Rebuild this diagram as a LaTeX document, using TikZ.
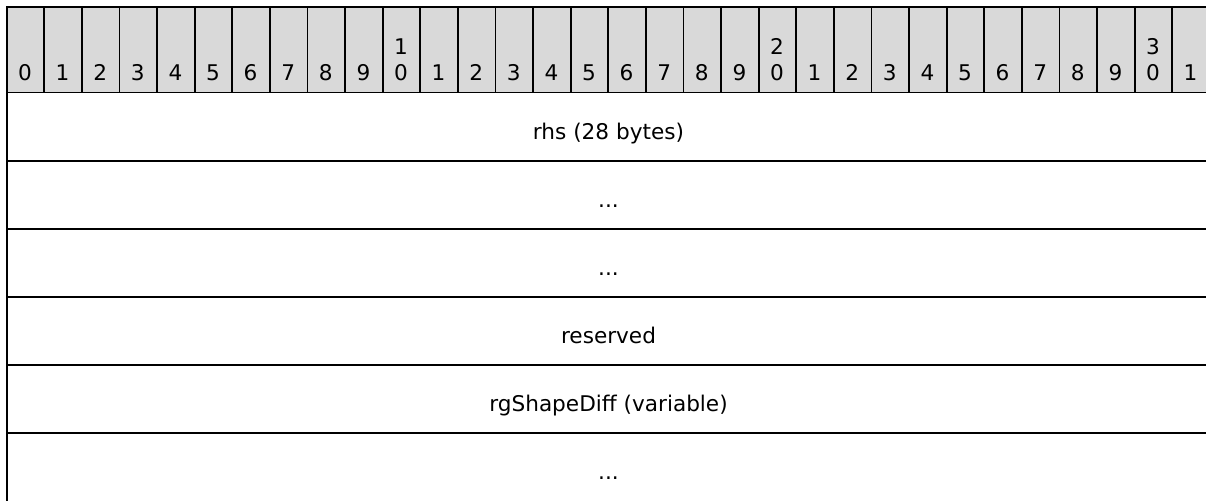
\documentclass[tikz,border=0pt]{standalone}
\usepackage{fontspec}
\setmainfont{DejaVu Sans}
\definecolor{hdrgray}{HTML}{D9D9D9}
\tikzset{
	bitcell/.style={draw,line width=1.1pt,fill=hdrgray},
	fieldbox/.style={draw,line width=1.1pt},
	lbl/.style={font=\fontsize{12.3}{15}\selectfont,inner sep=0pt,align=center}
}
\begin{document}
\begin{tikzpicture}[x=0.02cm,y=-0.02cm]
	\useasboundingbox (0,0) rectangle (1206,500);
	\clip (0,0) rectangle (1206,500);
	
	% bit ruler, the last cell runs off the right edge
	\foreach \i in {0,...,31}{
		\pgfmathtruncatemacro\tens{\i/10}
		\pgfmathtruncatemacro\units{mod(\i,10)}
		\ifnum\i=31
			\draw[bitcell] (6.7+\i*37.6,6.7) rectangle ++(70,85.8);
		\else
			\draw[bitcell] (6.7+\i*37.6,6.7) rectangle ++(37.6,85.8);
		\fi
		\ifnum\i>9 \ifnum\units=0
			\node[lbl,anchor=south] (b\i) at (25,81.3) [xshift=\i*37.6*0.02cm] {\tens\\\units};
		\else
			\node[lbl,anchor=south] (b\i) at (25,81.3) [xshift=\i*37.6*0.02cm] {\units};
		\fi \else
			\node[lbl,anchor=south] (b\i) at (25,81.3) [xshift=\i*37.6*0.02cm] {\units};
		\fi
	}
	
	% fields, the last one runs off the bottom edge
	\foreach \r in {0,...,4}
		\draw[fieldbox] (6.7,92.5+\r*68.05) rectangle ++(1240,68.05);
	\draw[fieldbox] (6.7,432.75) rectangle (1246,540);
	
	\node[lbl,anchor=base] (rhs) at (608.5,139.3) {rhs (28 bytes)};
	\node[lbl,anchor=base] (more1) at (608.5,207.4) {...};
	\node[lbl,anchor=base] (more2) at (608.5,275.4) {...};
	\node[lbl,anchor=base] (reserved) at (608.5,343.5) {reserved};
	\node[lbl,anchor=base] (diff) at (608.5,411.6) {rgShapeDiff (variable)};
	\node[lbl,anchor=base] (more3) at (608.5,479.6) {...};
\end{tikzpicture}
\end{document}
